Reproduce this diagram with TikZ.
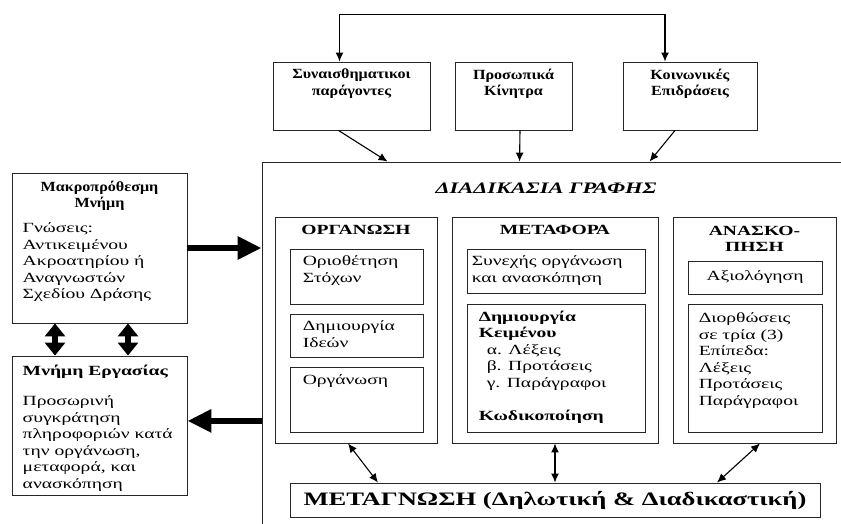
\documentclass[tikz,border=0pt]{standalone}
\usepackage{fontspec}
\setmainfont[FakeStretch=1.4]{Liberation Serif}
\newfontfamily\narrowserif[FakeStretch=1.15]{Liberation Serif}
\usetikzlibrary{arrows.meta,positioning}

\begin{document}
\begin{tikzpicture}[x=1pt, y=-1pt,
  frame/.style={draw=black!85, line width=0.9pt, inner sep=0pt},
  txt/.style={inner sep=0pt, align=left, font=\fontsize{14}{16.5}\selectfont},
  head/.style={inner sep=0pt, align=center, font=\bfseries\fontsize{14}{16.5}\selectfont},
  tophead/.style={head, font=\narrowserif\bfseries\fontsize{14}{16.5}\selectfont},
  arr/.style={-{Latex[length=9pt,width=8pt]}, line width=1.1pt},
  dbl/.style={{Latex[length=9pt,width=8pt]}-{Latex[length=9pt,width=8pt]}, line width=1.1pt},
  fat/.style={-{Triangle[length=24pt,width=22pt]}, line width=6pt},
  fatdbl/.style={{Triangle[length=13pt,width=20pt]}-{Triangle[length=13pt,width=20pt]}, line width=6pt}]
  \clip (0,0) rectangle (841,523);
  \fill[white] (0,0) rectangle (841,523);

  % factors on top
  \node[frame, minimum width=157pt, minimum height=68pt] (emo) at (351.5,96) {};
  \node[frame, minimum width=117pt, minimum height=68pt] (prs) at (513.5,96) {};
  \node[frame, minimum width=134pt, minimum height=68pt] (soc) at (690,96) {};
  \node[tophead, below=7pt of emo.north] (emo-t) {Συναισθηματικοι\\παράγοντες};
  \node[tophead, below=7pt of prs.north] (prs-t) {Προσωπικά\\Κίνητρα};
  \node[tophead, below=7pt of soc.north] (soc-t) {Κοινωνικές\\Επιδράσεις};

  % writing process
  \node[frame, minimum width=598pt, minimum height=378pt] (proc) at (561,351) {};
  \node[inner sep=0pt, font=\bfseries\itshape\fontsize{16}{19}\selectfont] (proc-t) at (546,188) {ΔΙΑΔΙΚΑΣΙΑ ΓΡΑΦΗΣ};

  \node[frame, minimum width=162pt, minimum height=226pt] (org) at (356,330) {};
  \node[frame, minimum width=206pt, minimum height=226pt] (tra) at (555,330) {};
  \node[frame, minimum width=163pt, minimum height=226pt] (ana) at (754.5,330) {};
  \node[head, below=8pt of org.north] (org-t) {ΟΡΓΑΝΩΣΗ};
  \node[head, below=8pt of tra.north] (tra-t) {ΜΕΤΑΦΟΡΑ};
  \node[head, below=9pt of ana.north] (ana-t) {ΑΝΑΣΚΟ-\\ΠΗΣΗ};

  \node[frame, minimum width=133pt, minimum height=55pt] (ori) at (356.5,276.5) {};
  \node[frame, minimum width=133pt, minimum height=43pt] (ide) at (356.5,335.5) {};
  \node[frame, minimum width=133pt, minimum height=65pt] (orn) at (356.5,399.5) {};
  \node[txt, below right=7pt and 13pt of ori.north west] (ori-t) {Οριοθέτηση\\Στόχων};
  \node[txt, below right=7pt and 13pt of ide.north west] (ide-t) {Δημιουργία\\Ιδεών};
  \node[txt, below right=8pt and 13pt of orn.north west] (orn-t) {Οργάνωση};

  \node[frame, minimum width=178pt, minimum height=44pt] (syn) at (556,271) {};
  \node[frame, minimum width=178pt, minimum height=128pt] (dim) at (556,368) {};
  \node[txt, below right=7pt and 5pt of syn.north west] (syn-t) {Συνεχής οργάνωση\\και ανασκόπηση};
  \node[txt, below right=7pt and 12pt of dim.north west] (dim-t) {\textbf{Δημιουργία}\\\textbf{Κειμένου}\\
    \hspace*{8pt}α. Λέξεις\\\hspace*{8pt}β. Προτάσεις\\\hspace*{8pt}γ. Παράγραφοι\\[16.5pt]\textbf{Κωδικοποίηση}};

  \node[frame, minimum width=134pt, minimum height=33pt, font=\fontsize{14}{16}\selectfont] (axi) at (755,277.5) {Αξιολόγηση};
  \node[frame, minimum width=134pt, minimum height=128pt] (dio) at (755,368) {};
  \node[txt, below right=9pt and 11pt of dio.north west] (dio-t) {Διορθώσεις\\σε τρία (3)\\Επίπεδα:\\Λέξεις\\Προτάσεις\\Παράγραφοι};

  \node[frame, minimum width=530pt, minimum height=34pt, font=\bfseries\fontsize{19}{23}\selectfont] (meta) at (555,500) {ΜΕΤΑΓΝΩΣΗ (Δηλωτική \& Διαδικαστική)};

  % memory
  \node[frame, minimum width=175pt, minimum height=150pt] (mak) at (99.5,248) {};
  \node[tophead, below=8pt of mak.north] (mak-t) {Μακροπρόθεσμη\\Μνήμη};
  \node[txt, below right=50pt and 11pt of mak.north west] (mak-b) {Γνώσεις:\\Αντικειμένου\\Ακροατηρίου ή\\Αναγνωστών\\Σχεδίου Δράσης};
  \node[frame, minimum width=175pt, minimum height=139pt] (erg) at (99.5,425.5) {};
  \node[head, below right=9pt and 11pt of erg.north west] (erg-t) {Μνήμη Εργασίας};
  \node[txt, below right=40pt and 11pt of erg.north west] (erg-b) {Προσωρινή\\συγκράτηση\\πληροφοριών κατά\\την οργάνωση,\\μεταφορά, και\\ανασκόπηση};

  % connectors
  \draw[dbl] ([xshift=-12pt]emo.north) -- ++(0,-47) -| ([xshift=-25pt]soc.north);
  \draw[arr] ([xshift=-13pt]emo.south) -- ([xshift=126pt]proc.north west);
  \draw[arr] ([xshift=6.5pt]prs.south) -- ([xshift=258pt]proc.north west);
  \draw[arr] ([xshift=-15pt]soc.south) -- ([xshift=388pt]proc.north west);
  \draw[fat] (mak.east) -- (mak.east -| proc.west);
  \draw[fat] (erg.3 -| proc.west) -- (erg.3);
  \draw[fatdbl] ([xshift=-44.5pt]mak.south) -- ([xshift=-44.5pt]erg.north);
  \draw[fatdbl] ([xshift=28.5pt]mak.south) -- ([xshift=28.5pt]erg.north);
  \draw[dbl] ([xshift=-8pt]org.south) -- ([xshift=-177pt]meta.north);
  \draw[dbl] (tra.south) -- (meta.north);
  \draw[dbl] ([xshift=5.5pt]ana.south) -- ([xshift=162pt]meta.north);
\end{tikzpicture}
\end{document}
